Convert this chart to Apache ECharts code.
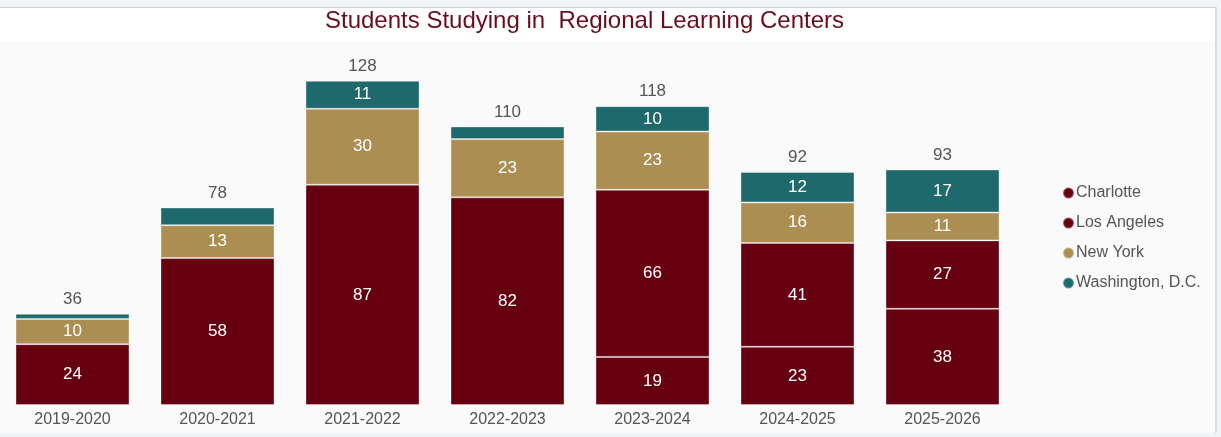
<!DOCTYPE html>
<html>
<head>
<meta charset="utf-8">
<script src="https://cdn.jsdelivr.net/npm/echarts@6/dist/echarts.min.js"></script>
<style>
    html, body { margin: 0; padding: 0; background: #f2f3f5; }
    #frame {
        position: absolute; left: 0; top: 7px; width: 1215px; height: 425px;
        border-top: 1px solid #cfd0d3; border-right: 2px solid #dcdde0;
        background: #fafafa;
    }
    #chart { width: 1215px; height: 425px; }
</style>
</head>
<body>
<div id="frame"><div id="chart"></div></div>
<script>
const years = ['2019-2020', '2020-2021', '2021-2022', '2022-2023', '2023-2024', '2024-2025', '2025-2026'];
const charlotte = ['-', '-', '-', '-', 19, 23, 38];
const losAngeles = [24, 58, 87, 82, 66, 41, 27];
const newYork = [10, 13, 30, 23, 23, 16, 11];
const washington = [2, 7, 11, 5, 10, 12, 17];
const totals = [36, 78, 128, 110, 118, 92, 93];

const colors = {
    red: '#660011',
    gold: '#ac8e53',
    teal: '#1d696c'
};

const FONT = 'Liberation Sans, Arial, sans-serif';

const chart = echarts.init(document.getElementById('chart'));

// 小的分段不显示数字
function innerLabel(p) {
    return (typeof p.value === 'number' && p.value >= 9) ? String(p.value) : '';
}

function segment(name, data, color) {
    return {
        name: name,
        type: 'bar',
        stack: 'students',
        barWidth: 114,
        data: data,
        itemStyle: {
            color: color,
            borderColor: 'rgba(255,255,255,0.35)',
            borderWidth: 1
        },
        label: {
            show: true,
            position: 'inside',
            color: '#ffffff',
            fontSize: 17,
            fontFamily: FONT,
            formatter: innerLabel
        },
        emphasis: { disabled: true }
    };
}

const option = {
    backgroundColor: '#fafafa',
    animation: false,
    graphic: [{
        type: 'rect',
        left: 0, top: 0,
        shape: { width: 1215, height: 33 },
        style: { fill: '#ffffff' },
        z: -1
    }],
    title: {
        text: 'Students Studying in  Regional Learning Centers',
        left: 320,
        top: -4,
        textStyle: {
            color: '#6b0b1c',
            fontSize: 24,
            fontWeight: 'normal',
            fontFamily: FONT
        }
    },
    legend: {
        orient: 'vertical',
        left: 1057,
        top: 172,
        itemGap: 14,
        itemWidth: 11,
        itemHeight: 11,
        icon: 'circle',
        data: ['Charlotte', 'Los Angeles', 'New York', 'Washington, D.C.'],
        textStyle: {
            color: '#555555',
            fontSize: 16,
            padding: [0, 0, 0, -3],
            fontFamily: FONT
        },
        selectedMode: false
    },
    grid: {
        left: -3,
        width: 1018,
        top: 45,
        bottom: 28,
        containLabel: false
    },
    xAxis: {
        type: 'category',
        data: years,
        axisLine: { show: false },
        axisTick: { show: false },
        axisLabel: {
            color: '#555555',
            fontSize: 16,
            margin: 7,
            fontFamily: FONT
        }
    },
    yAxis: {
        type: 'value',
        min: 0,
        max: 139,
        show: false,
        splitLine: { show: false }
    },
    series: [
        segment('Charlotte', charlotte, colors.red),
        segment('Los Angeles', losAngeles, colors.red),
        segment('New York', newYork, colors.gold),
        segment('Washington, D.C.', washington, colors.teal),
        {
            name: 'Total',
            type: 'bar',
            stack: 'students',
            barWidth: 114,
            data: totals.map(() => 0),
            itemStyle: { color: 'transparent' },
            label: {
                show: true,
                position: 'top',
                distance: 6,
                color: '#555555',
                fontSize: 17,
                fontFamily: FONT,
                formatter: p => String(totals[p.dataIndex])
            },
            emphasis: { disabled: true }
        }
    ]
};

chart.setOption(option);
</script>
</body>
</html>
